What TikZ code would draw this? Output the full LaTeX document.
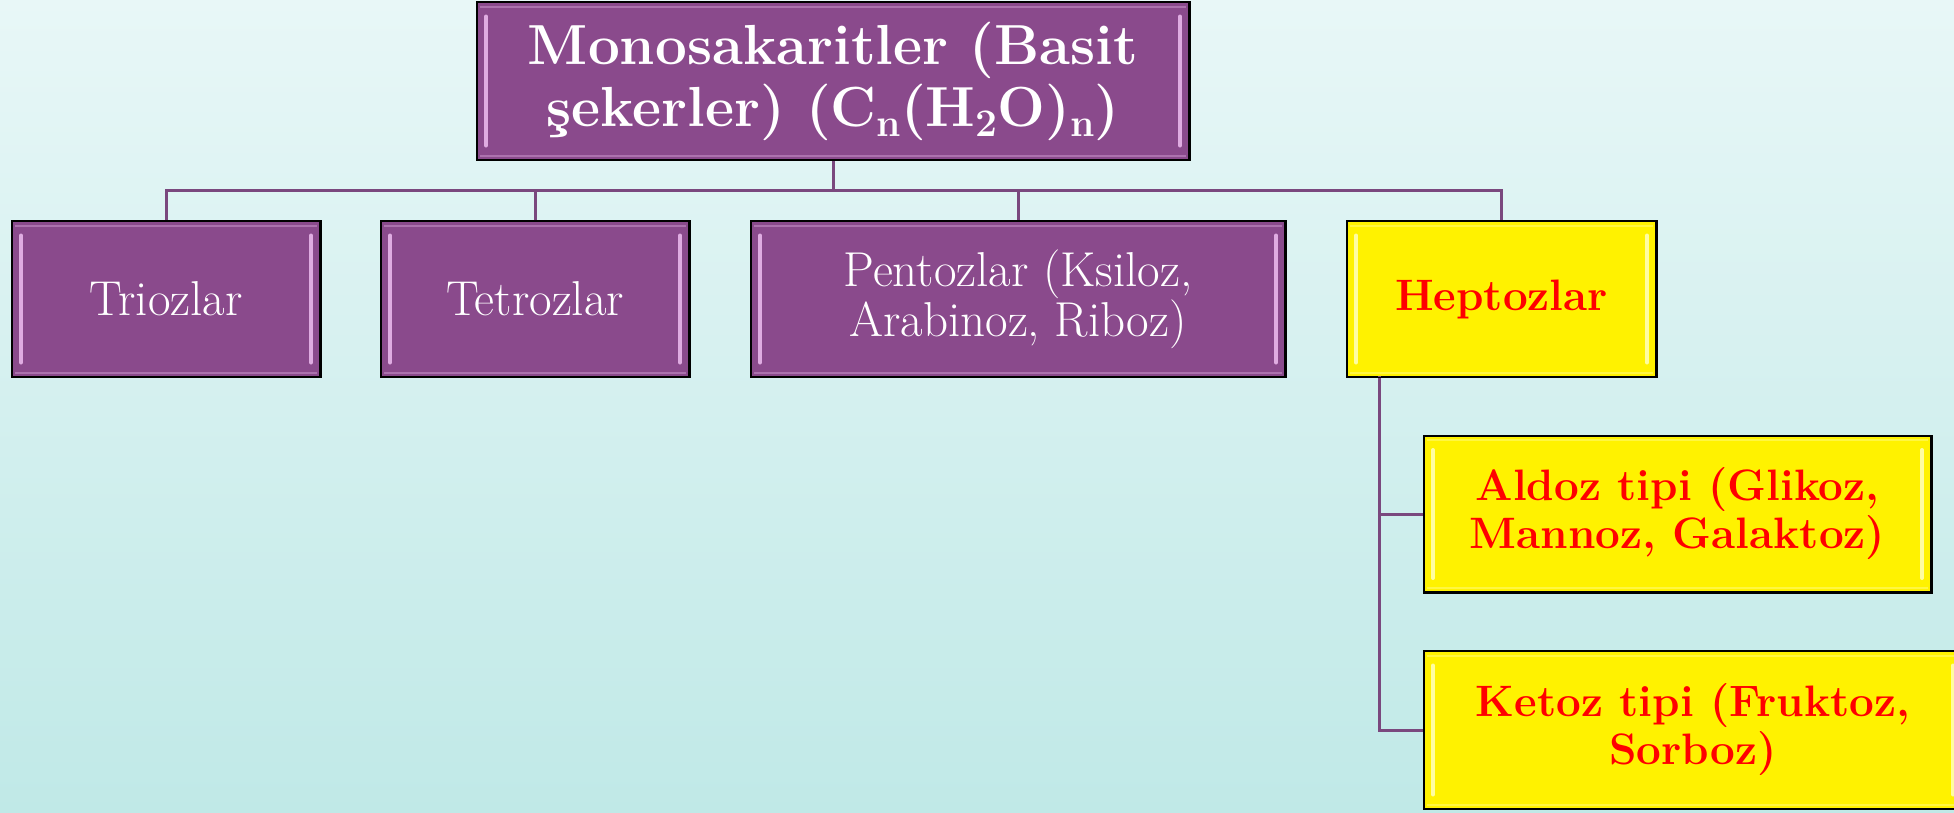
\documentclass[tikz,border=0pt]{standalone}
\usepackage{fontspec}
\definecolor{bgtop}{RGB}{232,247,247}
\definecolor{bgbot}{RGB}{192,233,231}
\definecolor{boxpurple}{RGB}{138,74,140}
\definecolor{linepurple}{RGB}{122,72,126}
\definecolor{bevelpink}{RGB}{238,190,240}
\definecolor{bevelyellow}{RGB}{255,255,190}
\newcommand\sbs[1]{\raisebox{-0.4ex}{\fontsize{39}{39}\selectfont #1}}
\tikzset{
  basebox/.style={draw=black, line width=1.5pt, rectangle, align=center, inner sep=0pt,
    path picture={
      \draw[line width=4pt, color=#1, line cap=round, opacity=0.85]
        ([xshift=9pt,yshift=-14pt]path picture bounding box.north west) --
        ([xshift=9pt,yshift=14pt]path picture bounding box.south west);
      \draw[line width=4pt, color=#1, line cap=round, opacity=0.85]
        ([xshift=-9pt,yshift=-14pt]path picture bounding box.north east) --
        ([xshift=-9pt,yshift=14pt]path picture bounding box.south east);
      \draw[line width=2pt, color=#1, opacity=0.35]
        ([xshift=3pt,yshift=-4pt]path picture bounding box.north west) --
        ([xshift=-3pt,yshift=-4pt]path picture bounding box.north east);
      \draw[line width=2pt, color=#1, opacity=0.35]
        ([xshift=3pt,yshift=4pt]path picture bounding box.south west) --
        ([xshift=-3pt,yshift=4pt]path picture bounding box.south east);
    }},
  purplebox/.style={basebox=bevelpink, fill=boxpurple, text=white,
    font=\fontsize{49}{48}\selectfont},
  yellowbox/.style={basebox=bevelyellow, fill=yellow, text=red,
    font=\fontsize{44}{48}\selectfont\bfseries},
  conn/.style={draw=linepurple, line width=3pt}
}
\begin{document}
\begin{tikzpicture}[x=1pt,y=-1pt]
\useasboundingbox (0,0) rectangle (1954,812);
\fill[top color=bgtop, bottom color=bgbot] (0,0) rectangle (1954,812);
\clip (0,0) rectangle (1954,812);

\coordinate (bus) at (833,190);
\coordinate (hv) at (1379,376);

\node[purplebox, minimum width=712pt, minimum height=157pt,
  font=\fontsize{56.5}{62}\selectfont\bfseries] (top) at (833,81)
  {Monosakaritler (Basit\\ şekerler) (C\sbs{n}(H\sbs{2}O)\sbs{n})};
\node[purplebox, minimum width=308pt, minimum height=155pt] (trio) at (166,299) {Triozlar};
\node[purplebox, minimum width=308pt, minimum height=155pt] (tetr) at (535,299) {Tetrozlar};
\node[purplebox, minimum width=534pt, minimum height=155pt] (pent) at (1018,299) {Pentozlar (Ksiloz,\\ Arabinoz, Riboz)};
\node[yellowbox, minimum width=309pt, minimum height=155pt] (hept) at (1501.5,299) {Heptozlar};
\node[yellowbox, minimum width=507pt, minimum height=156pt] (aldo) at (1677.5,514) {Aldoz tipi (Glikoz,\\ Mannoz, Galaktoz)};
\node[yellowbox, minimum width=538pt, minimum height=157pt] (keto) at (1693,730) {Ketoz tipi (Fruktoz,\\ Sorboz)};

\draw[conn] (top.south) -- (bus);
\draw[conn] (trio.north) -- (trio.north |- bus) -- (hept.north |- bus) -- (hept.north);
\draw[conn] (tetr.north) -- (tetr.north |- bus);
\draw[conn] (pent.north) -- (pent.north |- bus);
\draw[conn] (hv) |- (aldo.west);
\draw[conn] (hv) |- (keto.west);

\foreach \n in {top,trio,tetr,pent,hept,aldo,keto}{
  \draw[black, line width=1.5pt] (\n.north west) rectangle (\n.south east);
}
\end{tikzpicture}
\end{document}
